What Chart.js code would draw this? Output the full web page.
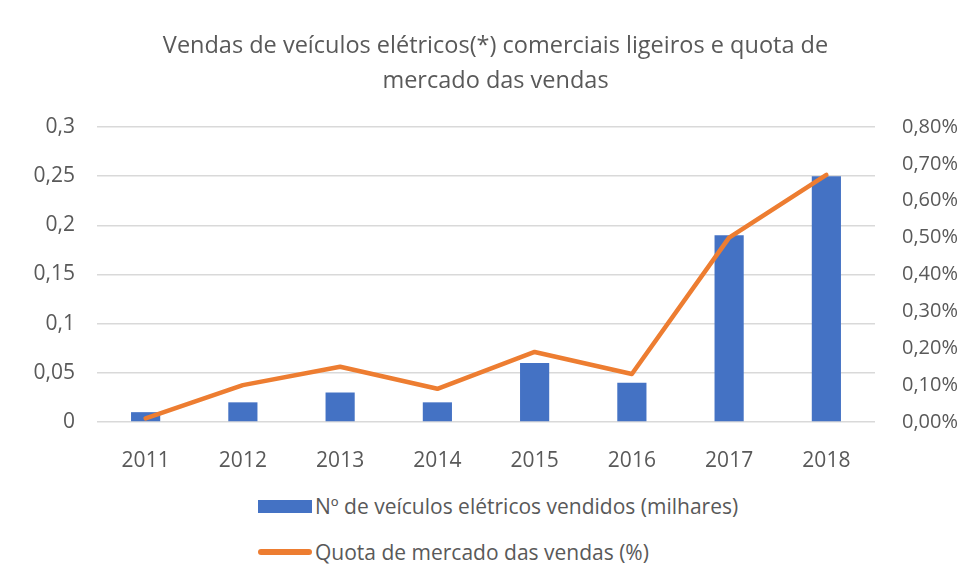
<!DOCTYPE html>
<html>
<head>
<meta charset="utf-8">
<script src="https://cdn.jsdelivr.net/npm/chart.js@4/dist/chart.umd.min.js"></script>
<style>
  html, body { margin: 0; padding: 0; background: #fff; }
  #wrap { position: relative; width: 961px; height: 583px; overflow: hidden; font-family: "Open Sans", sans-serif; color: #595959; }
  #c { position: absolute; left: 0; top: 0; }
  .leg { position: absolute; left: 258px; font-size: 21px; display: flex; align-items: center; white-space: nowrap; }
  .sw { display: inline-block; width: 54px; margin-right: 3px; }
</style>
</head>
<body>
<div id="wrap">
  <canvas id="c" width="961" height="480"></canvas>
  <div class="leg" id="leg1" style="top:492px"><span class="sw" style="height:13px;background:#4472C4"></span><span id="lab1"></span></div>
  <div class="leg" id="leg2" style="top:538px"><span class="sw" style="height:6px;border-radius:3px;background:#ED7D31"></span><span id="lab2"></span></div>
</div>
<script>
const years = ['2011', '2012', '2013', '2014', '2015', '2016', '2017', '2018']
const vendidos = [0.01, 0.02, 0.03, 0.02, 0.06, 0.04, 0.19, 0.25]
const quota = [0.0001, 0.0010, 0.0015, 0.0009, 0.0019, 0.0013, 0.0050, 0.0067]
const titleLines = ['Vendas de veículos elétricos(*) comerciais ligeiros e quota de', 'mercado das vendas']
const barLabel = 'Nº de veículos elétricos vendidos (milhares)'
const lineLabel = 'Quota de mercado das vendas (%)'

document.getElementById('lab1').textContent = barLabel
document.getElementById('lab2').textContent = lineLabel

const grey = '#595959'
const font = { family: '"Open Sans", sans-serif', size: 21 }

// title sits a bit right of the canvas centre in the original
const shiftTitle = {
  id: 'shiftTitle',
  afterLayout(chart) {
    if (chart.titleBlock) { chart.titleBlock.left += 15; chart.titleBlock.right += 15 }
  }
}

new Chart(document.getElementById('c'), {
  data: {
    labels: years,
    datasets: [
      { type: 'line', label: lineLabel, data: quota, yAxisID: 'y1', borderColor: '#ED7D31', borderWidth: 4.5, pointRadius: 0, tension: 0, borderCapStyle: 'round', borderJoinStyle: 'round', order: 0 },
      { type: 'bar', label: barLabel, data: vendidos, yAxisID: 'y', backgroundColor: '#4472C4', categoryPercentage: 1, barPercentage: 0.30, order: 1 }
    ]
  },
  options: {
    responsive: false,
    animation: false,
    plugins: {
      legend: { display: false },
      tooltip: { enabled: false },
      title: { display: true, text: titleLines, color: grey, font: { family: '"Open Sans", sans-serif', size: 23.5, weight: 'normal', lineHeight: 1.49 }, padding: { top: 29, bottom: 28 } }
    },
    scales: {
      x: {
        grid: { display: false },
        border: { display: false },
        ticks: { color: grey, font, padding: 18, maxRotation: 0 },
        afterFit: s => { s.height = 58 }
      },
      y: {
        position: 'left', min: 0, max: 0.3,
        grid: { color: '#d9d9d9', lineWidth: 1.5, drawTicks: false },
        border: { display: false },
        ticks: { stepSize: 0.05, color: grey, font, padding: 22, callback: v => String(Math.round(v * 100) / 100).replace('.', ',') },
        afterFit: s => { s.width = 97 }
      },
      y1: {
        position: 'right', min: 0, max: 0.008,
        grid: { display: false },
        border: { display: false },
        ticks: { stepSize: 0.001, color: grey, font: { family: '"Open Sans", sans-serif', size: 20 }, padding: 19, callback: v => (v * 100).toFixed(2).replace('.', ',') + '%' },
        afterFit: s => { s.width = 86 }
      }
    }
  },
  plugins: [shiftTitle]
})
</script>
</body>
</html>
